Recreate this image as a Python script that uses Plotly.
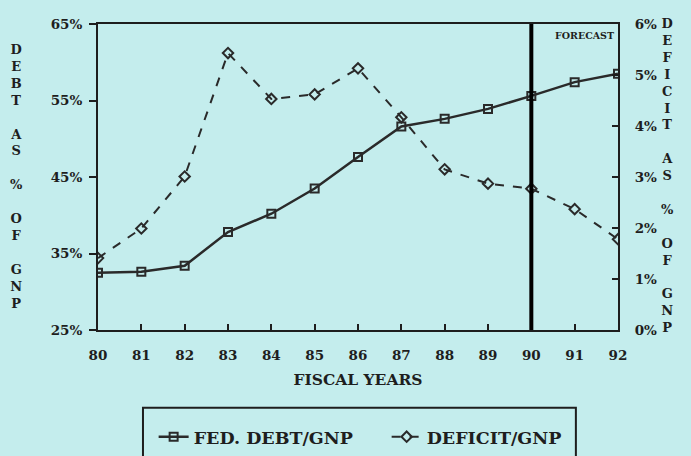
import plotly.graph_objects as go

years = list(range(80, 93))
year_labels = [str(y) for y in years]
debt_gnp = [32.5, 32.6, 33.4, 37.8, 40.2, 43.5, 47.6, 51.6, 52.6, 53.9, 55.6, 57.4, 58.5]
deficit_gnp = [1.41, 1.99, 3.01, 5.43, 4.53, 4.62, 5.13, 4.17, 3.15, 2.87, 2.77, 2.37, 1.78]
left_ticks = [25, 35, 45, 55, 65]
left_labels = [f"{v}%" for v in left_ticks]
right_ticks = [0, 1, 2, 3, 4, 5, 6]
right_labels = [f"{v}%" for v in right_ticks]
forecast_year = 90

BG = "#c4eded"
INK = "#1e1e1e"
FONT = "DejaVu Serif"

fig = go.Figure()
fig.add_trace(go.Scatter(
    x=years, y=debt_gnp, name="FED. DEBT/GNP", mode="lines+markers",
    line=dict(color="#2a2a2a", width=2.5),
    marker=dict(symbol="square-open", size=8, color="#2a2a2a", line=dict(width=2)),
    yaxis="y"))
fig.add_trace(go.Scatter(
    x=years, y=deficit_gnp, name="DEFICIT/GNP", mode="lines+markers",
    line=dict(color="#2a2a2a", width=2, dash="dash"),
    marker=dict(symbol="diamond-open", size=8, color="#2a2a2a", line=dict(width=2)),
    yaxis="y2"))

fig.add_shape(type="line", xref="x", yref="paper", x0=forecast_year, x1=forecast_year,
              y0=0, y1=1, line=dict(color="black", width=4))
fig.add_shape(type="rect", xref="paper", yref="paper", x0=0.0865, x1=0.919, y0=-0.45, y1=-0.254,
              line=dict(color=INK, width=2), fillcolor="rgba(0,0,0,0)", layer="above")

fig.add_annotation(text="FORECAST", xref="paper", yref="paper", x=0.935, y=0.964,
                   showarrow=False, font=dict(family=FONT, size=9.5, color=INK, weight="bold"),
                   xanchor="center", yanchor="middle")


def stack(words):
    return "<br><br>".join("<br>".join(list(w)) for w in words)


left_title = stack(["DEBT", "AS", "%", "OF", "GNP"])
right_title = stack(["DEFICIT", "AS", "%", "OF", "GNP"])
fig.add_annotation(text=left_title, xref="paper", yref="paper", x=-0.156, y=0.502,
                   showarrow=False, font=dict(family=FONT, size=13, color=INK, weight="bold"),
                   xanchor="center", yanchor="middle", align="center")
fig.add_annotation(text=right_title, xref="paper", yref="paper", x=1.096, y=0.505,
                   showarrow=False, font=dict(family=FONT, size=13, color=INK, weight="bold"),
                   xanchor="center", yanchor="middle", align="center")

tickfont = dict(family=FONT, size=13.5, color=INK, weight="bold")
fig.update_layout(
    width=691, height=456,
    margin=dict(l=98, r=73, t=24, b=126, autoexpand=False),
    paper_bgcolor=BG, plot_bgcolor=BG,
    showlegend=True,
    legend=dict(orientation="h", x=0.107, y=0.042, xref="paper", yref="container",
                xanchor="left", yanchor="middle",
                bgcolor="rgba(0,0,0,0)", font=dict(family=FONT, size=17.5, color=INK, weight="bold"),
                entrywidth=188, entrywidthmode="pixels"),
    xaxis=dict(range=[80, 92], tickvals=years, ticktext=year_labels, showgrid=False, zeroline=False,
               showline=True, linecolor=INK, linewidth=2, mirror=True, ticks="inside", ticklen=6,
               tickcolor=INK, tickwidth=2, tickfont=tickfont, ticklabelstandoff=12, automargin=False,
               title=dict(text="FISCAL YEARS", font=dict(family=FONT, size=15.5, color=INK, weight="bold"),
                          standoff=12)),
    yaxis=dict(range=[25, 65], tickvals=left_ticks, ticktext=left_labels, showgrid=False, zeroline=False,
               showline=True, linecolor=INK, linewidth=2, ticks="outside", ticklen=7, tickcolor=INK,
               tickwidth=1.5, tickfont=tickfont, ticklabelstandoff=4, automargin=False),
    yaxis2=dict(range=[0, 6], tickvals=right_ticks, ticktext=right_labels, overlaying="y", side="right",
                showgrid=False, zeroline=False, showline=True, linecolor=INK, linewidth=2,
                ticks="inside", ticklen=6, tickcolor=INK, tickwidth=1.5, tickfont=tickfont,
                ticklabelstandoff=12, automargin=False),
)

fig.write_html("out.html", config={"displayModeBar": False},
               post_script="document.body.style.margin='0';document.body.style.overflow='hidden';")
